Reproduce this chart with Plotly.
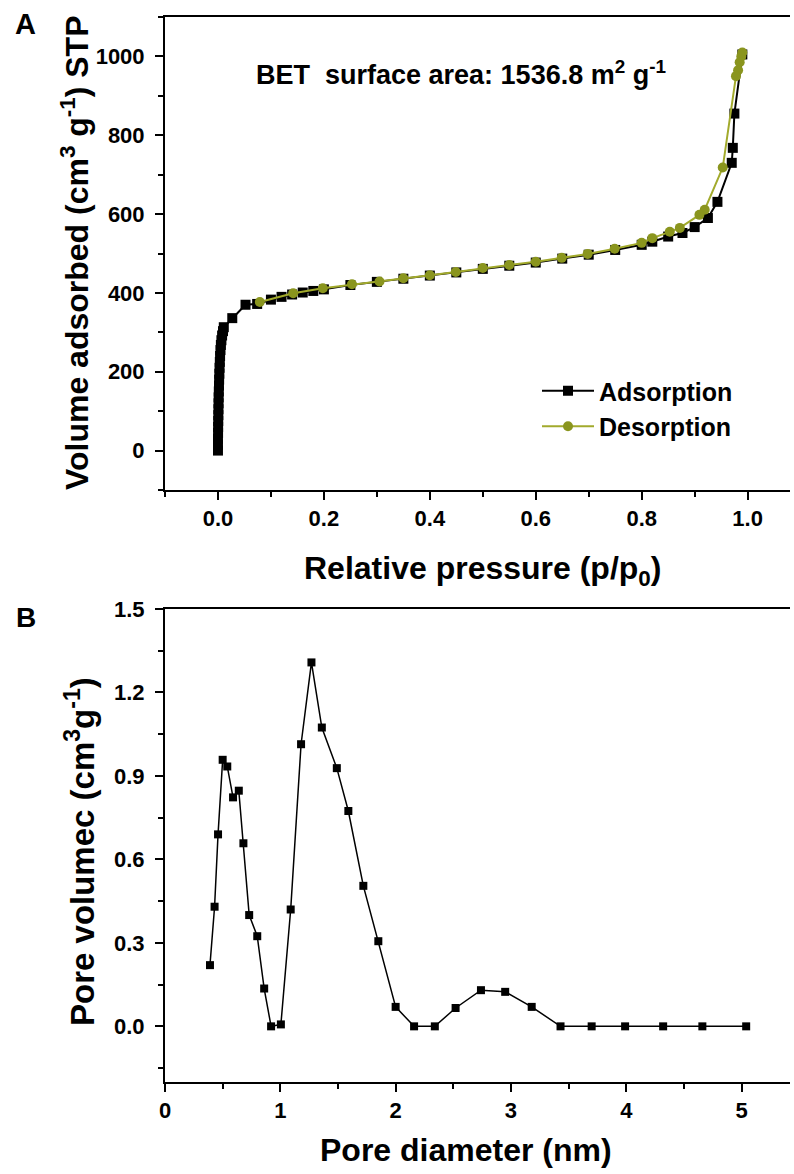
import plotly.graph_objects as go

# ---------------- Panel A data: N2 isotherm ----------------
ads_p = [0.0, 0.0, 0.0, 0.0002, 0.0003, 0.0005, 0.0007, 0.0009, 0.0011, 0.0013,
         0.0016, 0.0019, 0.0022, 0.0026, 0.003, 0.0035, 0.004, 0.0047, 0.0055,
         0.0065, 0.0078, 0.0095, 0.011, 0.027, 0.052, 0.074, 0.10, 0.12, 0.14,
         0.16, 0.18, 0.20, 0.25, 0.30, 0.35, 0.40, 0.45, 0.50, 0.55, 0.60, 0.65,
         0.70, 0.75, 0.80, 0.82, 0.85, 0.877, 0.90, 0.925, 0.943, 0.970, 0.972,
         0.975, 0.99]
ads_v = [0, 15, 30, 45, 60, 75, 90, 105, 120, 135,
         150, 165, 180, 195, 210, 225, 240, 255, 268,
         280, 292, 303, 313, 336, 370, 372, 383, 390, 396,
         401, 405, 409, 420, 428, 436, 444, 452, 461, 469, 477, 487,
         497, 509, 522, 530, 543, 552, 567, 590, 631, 730, 768,
         855, 1005]

des_p = [0.99, 0.988, 0.985, 0.982, 0.978, 0.953, 0.919, 0.909, 0.872, 0.853,
         0.82, 0.80, 0.749, 0.698, 0.649, 0.60, 0.55, 0.50, 0.449, 0.40, 0.35,
         0.305, 0.253, 0.198, 0.142, 0.079]
des_v = [1010, 1000, 985, 965, 950, 718, 611, 598, 565, 555,
         539, 527, 512, 499, 489, 479, 471, 463, 453, 445, 437,
         429, 422, 412, 399, 377]

# ---------------- Panel B data: pore size distribution ----------------
pore_d = [0.39, 0.43, 0.46, 0.50, 0.54, 0.59, 0.64, 0.68, 0.73, 0.80, 0.86,
          0.92, 1.005, 1.09, 1.18, 1.27, 1.36, 1.49, 1.59, 1.72, 1.85, 2.0,
          2.16, 2.34, 2.52, 2.74, 2.95, 3.18, 3.43, 3.70, 3.99, 4.32, 4.66, 5.04]
pore_v = [0.22, 0.43, 0.69, 0.958, 0.934, 0.823, 0.847, 0.658, 0.40, 0.324, 0.136,
          0.0, 0.007, 0.42, 1.014, 1.308, 1.074, 0.928, 0.774, 0.505, 0.306, 0.07,
          0.0, 0.0, 0.066, 0.13, 0.124, 0.07, 0.0, 0.0, 0.0, 0.0, 0.0, 0.0]

W, H = 794, 1174
FONT = "Liberation Sans, Arial, Helvetica, sans-serif"
OLIVE = "#8a951e"
OLIVE_LINE = "#a2aa2c"

def px_x(p):
    return p / W

def px_y(p):
    return 1 - p / H

fig = go.Figure()

fig.add_trace(go.Scatter(
    x=ads_p, y=ads_v, mode="lines+markers", name="Adsorption",
    line=dict(color="black", width=2),
    marker=dict(symbol="square", size=10, color="black"),
    xaxis="x", yaxis="y"))
fig.add_trace(go.Scatter(
    x=des_p, y=des_v, mode="lines+markers", name="Desorption",
    line=dict(color=OLIVE_LINE, width=2),
    marker=dict(symbol="circle", size=10, color=OLIVE),
    xaxis="x", yaxis="y"))
fig.add_trace(go.Scatter(
    x=pore_d, y=pore_v, mode="lines+markers", showlegend=False,
    line=dict(color="black", width=1.5),
    marker=dict(symbol="square", size=8, color="black"),
    xaxis="x2", yaxis="y2"))

tickfont = dict(family=FONT, size=22, color="black", weight="bold")
axis_common = dict(showline=True, linecolor="black", linewidth=2,
                   ticks="outside", ticklen=8, tickwidth=2, tickcolor="black",
                   showgrid=False, zeroline=False, tickfont=tickfont,
                   fixedrange=True)
minor_common = dict(ticks="outside", ticklen=5, tickwidth=2, tickcolor="black")

fig.update_layout(
    width=W, height=H,
    margin=dict(l=0, r=0, t=0, b=0, autoexpand=False),
    paper_bgcolor="white", plot_bgcolor="white",
    xaxis=dict(domain=[px_x(165), px_x(790)], range=[-0.1, 1.08],
               tickvals=[0.0, 0.2, 0.4, 0.6, 0.8, 1.0], tickformat=".1f",
               minor=dict(dtick=0.1, tick0=-0.1, **minor_common),
               mirror=True, anchor="y", **axis_common),
    yaxis=dict(domain=[px_y(490), px_y(17)], range=[-100, 1100],
               tickvals=[0, 200, 400, 600, 800, 1000],
               minor=dict(dtick=100, tick0=-100, **minor_common),
               ticklabelstandoff=6,
               mirror=False, anchor="x", **axis_common),
    xaxis2=dict(domain=[px_x(165), px_x(790)], range=[0, 5.42],
                tickvals=[0, 1, 2, 3, 4, 5],
                minor=dict(dtick=0.5, tick0=0, **minor_common),
                mirror=True, anchor="y2", **axis_common),
    yaxis2=dict(domain=[px_y(1082), px_y(609)], range=[-0.2, 1.5],
                tickvals=[0.0, 0.3, 0.6, 0.9, 1.2, 1.5], tickformat=".1f",
                minor=dict(dtick=0.15, tick0=0, **minor_common),
                ticklabelstandoff=6,
                mirror=False, anchor="x2", **axis_common),
    legend=dict(x=px_x(537), y=px_y(368), xanchor="left", yanchor="top",
                bgcolor="rgba(0,0,0,0)", borderwidth=0,
                font=dict(family=FONT, size=25, color="black", weight="bold"),
                tracegroupgap=0, itemwidth=52),
    showlegend=True,
)

def ann(text, x, y, size, angle=0, xanchor="center", yanchor="middle"):
    fig.add_annotation(text=text, x=px_x(x), y=px_y(y), xref="paper", yref="paper",
                       showarrow=False, textangle=angle,
                       xanchor=xanchor, yanchor=yanchor,
                       font=dict(family=FONT, size=size, color="black"))

ann("<b>A</b>", 25, 24, 29)
ann("<b>B</b>", 26, 617, 28)
ann("<b>BET  surface area: 1536.8 m<sup>2</sup> g<sup>-1</sup></b>", 461, 73, 27)
ann("<b>Volume adsorbed (cm<sup>3</sup> g<sup>-1</sup>) STP</b>", 75, 253, 32, angle=-90)
ann("<b>Relative pressure (p/p<sub>0</sub>)</b>", 482, 570, 32)
ann("<b>Pore volumec (cm<sup>3</sup>g<sup>-1</sup>)</b>", 80, 852, 33, angle=-90)
ann("<b>Pore diameter (nm)</b>", 466, 1150, 32)

fig.write_html("out.html")
